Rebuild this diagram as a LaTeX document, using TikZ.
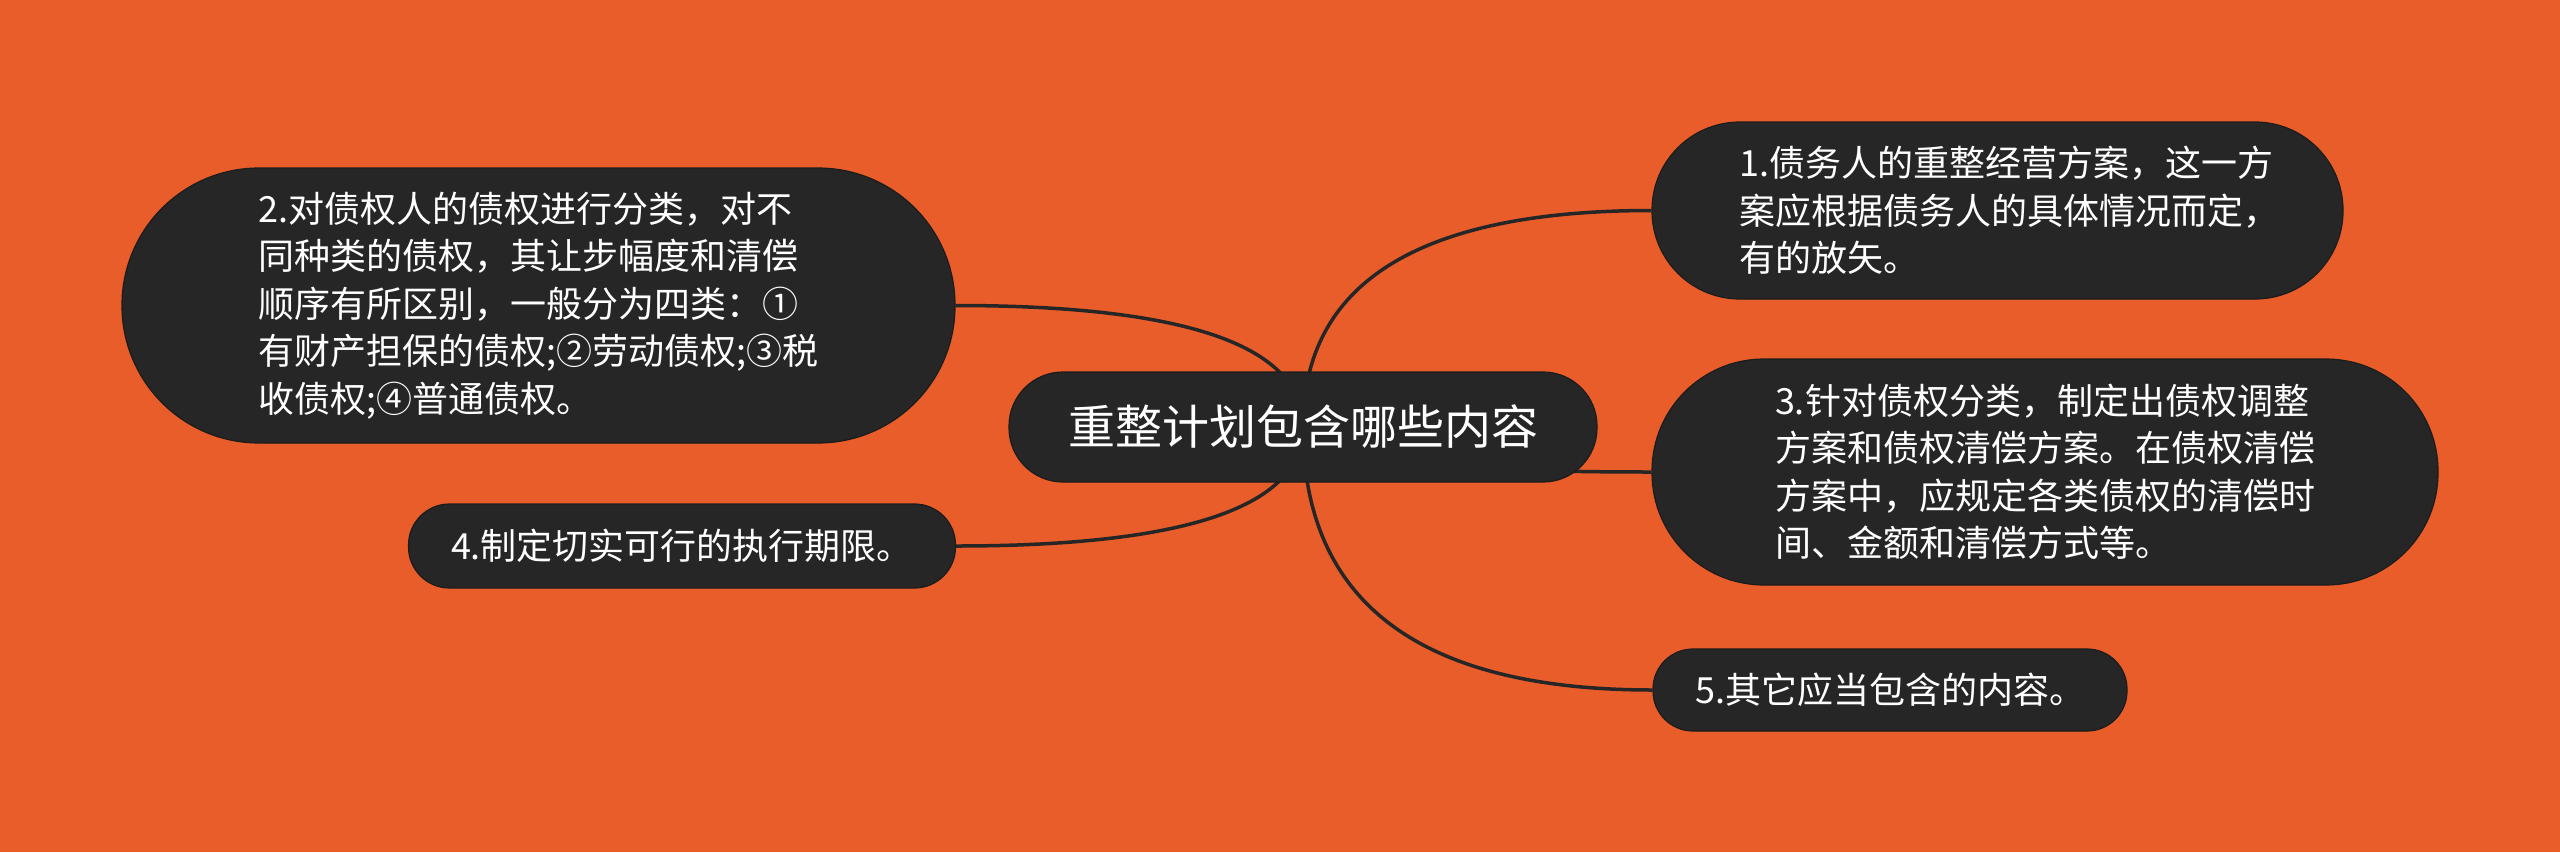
\documentclass[tikz,border=0pt]{standalone}
\usepackage{fontspec}
\newfontfamily\cjk{Noto Sans CJK SC}
\usetikzlibrary{calc}
\definecolor{bgorange}{HTML}{E95D2A}
\definecolor{boxfill}{HTML}{262626}
\definecolor{boxline}{HTML}{1C1C1C}
\definecolor{linkcol}{HTML}{262626}
\pgfdeclarelayer{back}
\pgfsetlayers{back,main}
\begin{document}
\begin{tikzpicture}[x=1pt,y=-1pt,
  topic/.style={draw=boxline, line width=1.2pt, fill=boxfill, text=white,
    inner sep=0pt, align=left, font=\cjk\fontsize{36}{47.5}\selectfont},
  central/.style={topic, font=\cjk\fontsize{47}{56}\selectfont},
  link/.style={draw=linkcol, line width=3.5pt}]
\useasboundingbox (0,0) rectangle (2560,852);

\node[central, minimum width=588pt, minimum height=110pt, rounded corners=54pt] (c) at (1303,427) {重整计划包含哪些内容};

\node[topic, minimum width=691pt, minimum height=177pt, rounded corners=88pt] (n1) at (1997.5,210.5)
  {\hspace*{24pt}1.债务人的重整经营方案，这一方\\\hspace*{24pt}案应根据债务人的具体情况而定，\\\hspace*{24pt}有的放矢。};

\node[topic, minimum width=833pt, minimum height=275pt, rounded corners=137pt] (n2) at (538.5,305.5)
  {2.对债权人的债权进行分类，对不\\同种类的债权，其让步幅度和清偿\\顺序有所区别，一般分为四类：①\\有财产担保的债权;②劳动债权;③税\\收债权;④普通债权。};

\node[topic, minimum width=786pt, minimum height=226pt, rounded corners=112pt] (n3) at (2045,472)
  {3.针对债权分类，制定出债权调整\\方案和债权清偿方案。在债权清偿\\方案中，应规定各类债权的清偿时\\间、金额和清偿方式等。};

\node[topic, minimum width=547pt, minimum height=84pt, rounded corners=41pt] (n4) at (682,546)
  {4.制定切实可行的执行期限。};

\node[topic, minimum width=474pt, minimum height=82pt, rounded corners=40pt] (n5) at (1890,690)
  {5.其它应当包含的内容。};

\begin{pgfonlayer}{back}
\fill[bgorange] (0,0) rectangle (2560,852);
\foreach \n/\a in {n1/west, n2/east, n3/west, n4/east, n5/west}{
  \draw[link] (c.center)
    .. controls ($(c.center)!2/3!(c.center |- \n.\a)$)
           and ($(\n.\a)!2/3!(c.center |- \n.\a)$) .. (\n.\a);
}
\end{pgfonlayer}
\end{tikzpicture}
\end{document}
